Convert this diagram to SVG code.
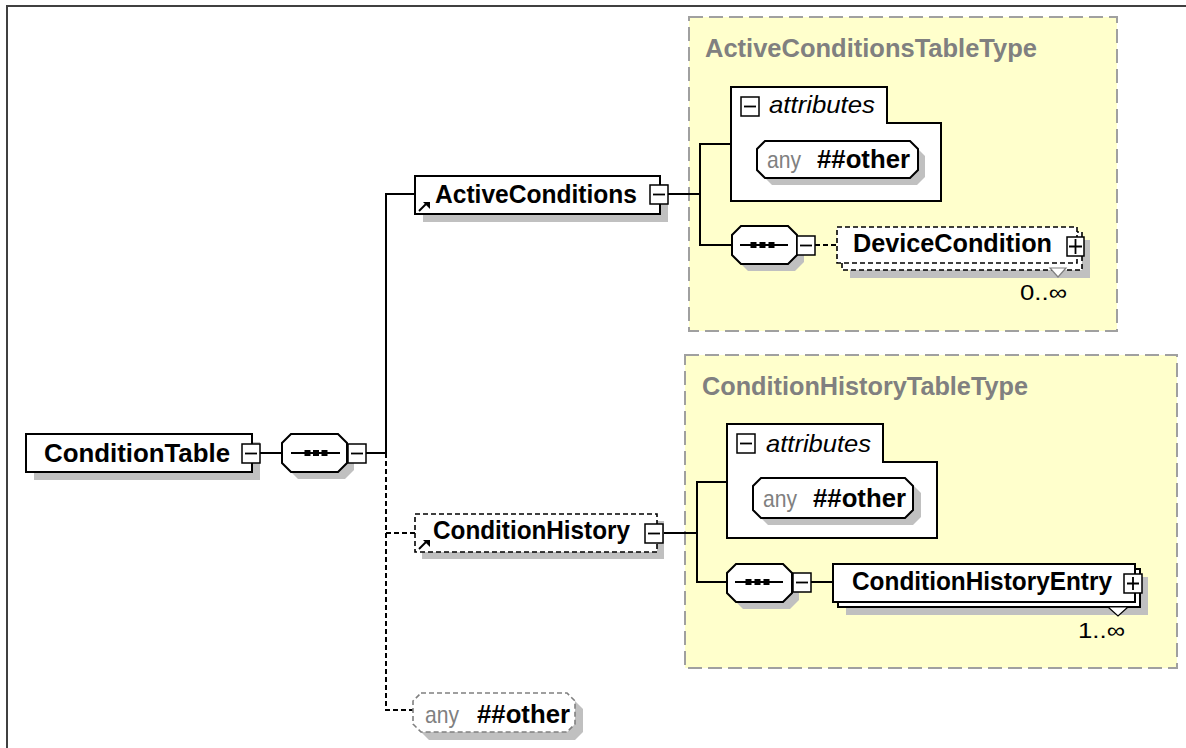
<svg xmlns="http://www.w3.org/2000/svg" width="1186" height="748" viewBox="0 0 1186 748">
<style>
.bg{fill:#ffffff}
.frame{fill:none;stroke:#404040;stroke-width:2}
.type{fill:#ffffcc;stroke:#a0a0a0;stroke-width:2;stroke-dasharray:14 6}
.shadow{fill:#c0c0c0;stroke:none}
.node{fill:#ffffff;stroke:#000;stroke-width:2}
.dnode{fill:#ffffff;stroke:#000;stroke-width:1.6;stroke-dasharray:5 3}
.anyd{fill:#ffffff;stroke:#808080;stroke-width:1.6;stroke-dasharray:5 3}
.btn{fill:#ffffff;stroke:#000;stroke-width:1.5}
.pm{stroke:#000;stroke-width:1.8;fill:none}
.conn{stroke:#000;stroke-width:2;fill:none}
.dconn{stroke:#000;stroke-width:2;fill:none;stroke-dasharray:5 3}
.lbl{font-family:'Liberation Sans',Arial,sans-serif;font-weight:bold;font-size:25px;fill:#000}
.title{font-family:'Liberation Sans',Arial,sans-serif;font-weight:bold;font-size:25px;fill:#808080}
.attr{font-family:'Liberation Sans',Arial,sans-serif;font-style:italic;font-size:24px;fill:#000}
.anyt{font-family:'Liberation Sans',Arial,sans-serif;font-size:24px;fill:#808080}
.mult{font-family:'Liberation Sans',Arial,sans-serif;font-size:22px;fill:#000}
.dot{fill:#000}
</style>
<rect class="bg" x="0" y="0" width="1186" height="748"/>
<path class="frame" d="M7,748 V6 H1186"/>

<g id="ActiveConditionsTableType">
<rect class="type" x="689" y="17" width="428" height="314"/>
<text class="title" x="705" y="57" textLength="332" lengthAdjust="spacingAndGlyphs">ActiveConditionsTableType</text>
</g>
<g id="ConditionHistoryTableType">
<rect class="type" x="685" y="355" width="492" height="313"/>
<text class="title" x="702" y="395" textLength="326" lengthAdjust="spacingAndGlyphs">ConditionHistoryTableType</text>
</g>

<g id="connectors">
<path class="conn" d="M260,453 H282"/>
<path class="conn" d="M366,453 H386 V194 H415"/>
<path class="dconn" d="M386,453 V710 H413"/>
<path class="dconn" d="M386,533 H415"/>
<path class="conn" d="M668,194 H700"/>
<path class="conn" d="M731,144 H700 V245 H732"/>
<path class="dconn" d="M815,245 H837"/>
<path class="conn" d="M663,533 H697"/>
<path class="conn" d="M727,482 H697 V582 H727"/>
<path class="conn" d="M811,582 H833"/>
</g>

<g id="ConditionTable">
<rect class="shadow" x="34" y="442" width="226" height="38"/>
<rect class="node" x="26" y="434" width="226" height="38"/>
<text class="lbl" x="44" y="462" textLength="186" lengthAdjust="spacingAndGlyphs">ConditionTable</text>
<rect class="btn" x="242" y="444" width="18" height="19"/>
<path class="pm" d="M245,453.5 H257"/>
</g>

<g id="sequence1">
<path class="shadow" d="M298,441 H345 L354,450 V470 L345,479 H298 L289,470 V450 Z"/>
<path class="node" d="M291,434 H338 L347,443 V463 L338,472 H291 L282,463 V443 Z"/>
<path class="conn" d="M291,453 H340"/>
<rect class="dot" x="304.5" y="450" width="6" height="6"/>
<rect class="dot" x="313" y="450" width="6" height="6"/>
<rect class="dot" x="321.5" y="450" width="6" height="6"/>
<rect class="btn" x="348" y="444" width="18" height="19"/>
<path class="pm" d="M351,453.5 H363"/>
</g>

<g id="ActiveConditions">
<rect class="shadow" x="423" y="184" width="245" height="38"/>
<rect class="node" x="415" y="176" width="245" height="38"/>
<text class="lbl" x="435" y="203" textLength="202" lengthAdjust="spacingAndGlyphs">ActiveConditions</text>
<path class="conn" d="M419,211 L426,204"/>
<polygon class="dot" points="423,202 430,202 430,209"/>
<rect class="btn" x="650" y="185" width="18" height="19"/>
<path class="pm" d="M653,194.5 H665"/>
</g>

<g id="attributes1">
<polygon class="node" points="731,87 887,87 887,123 941,123 941,201 731,201"/>
<rect class="btn" x="741" y="97" width="18" height="19"/>
<path class="pm" d="M744,106.5 H756"/>
<text class="attr" x="769" y="113" textLength="106" lengthAdjust="spacingAndGlyphs">attributes</text>
</g>
<g id="anyAttr1">
<path class="shadow" d="M772,148 H917 L925,156 V177 L917,185 H772 L764,177 V156 Z"/>
<path class="node" d="M765,141 H910 L918,149 V170 L910,178 H765 L757,170 V149 Z"/>
<text class="anyt" x="767" y="168" textLength="34" lengthAdjust="spacingAndGlyphs">any</text>
<text class="lbl" x="817" y="168" textLength="93" lengthAdjust="spacingAndGlyphs">##other</text>
</g>

<g id="sequence2">
<path class="shadow" d="M748,233 H795 L804,242 V262 L795,271 H748 L739,262 V242 Z"/>
<path class="node" d="M741,226 H788 L797,235 V255 L788,264 H741 L732,255 V235 Z"/>
<path class="conn" d="M740,245 H788"/>
<rect class="dot" x="750.5" y="242" width="6" height="6"/>
<rect class="dot" x="759.5" y="242" width="6" height="6"/>
<rect class="dot" x="768.5" y="242" width="6" height="6"/>
<rect class="btn" x="797" y="236" width="18" height="19"/>
<path class="pm" d="M800,245.5 H812"/>
</g>

<g id="DeviceCondition">
<rect class="shadow" x="850" y="240" width="240" height="38"/>
<rect class="dnode" x="842" y="232" width="240" height="38"/>
<rect class="dnode" x="837" y="227" width="240" height="36"/>
<polygon points="1050,268 1066,268 1058,277" fill="#ffffff" stroke="#808080" stroke-width="1.2"/>
<text class="lbl" x="853" y="252" textLength="199" lengthAdjust="spacingAndGlyphs">DeviceCondition</text>
<rect class="btn" x="1067" y="237" width="17" height="19"/>
<path class="pm" d="M1069,246.5 H1082 M1075.5,239 V254"/>
<text class="mult" x="1020" y="300" textLength="47" lengthAdjust="spacingAndGlyphs">0..∞</text>
</g>

<g id="ConditionHistory">
<rect class="shadow" x="422" y="521" width="242" height="38"/>
<rect class="dnode" x="415" y="514" width="242" height="38"/>
<text class="lbl" x="433" y="539" textLength="197" lengthAdjust="spacingAndGlyphs">ConditionHistory</text>
<path class="conn" d="M419,549 L426,542"/>
<polygon class="dot" points="423,540 430,540 430,547"/>
<rect class="btn" x="645" y="524" width="18" height="19"/>
<path class="pm" d="M648,533.5 H660"/>
</g>

<g id="attributes2">
<polygon class="node" points="727,424 883,424 883,462 937,462 937,538 727,538"/>
<rect class="btn" x="737" y="434" width="18" height="19"/>
<path class="pm" d="M740,443.5 H752"/>
<text class="attr" x="766" y="452" textLength="105" lengthAdjust="spacingAndGlyphs">attributes</text>
</g>
<g id="anyAttr2">
<path class="shadow" d="M768,485 H913 L921,493 V517 L913,525 H768 L760,517 V493 Z"/>
<path class="node" d="M761,478 H905 L913,486 V510 L905,518 H761 L753,510 V486 Z"/>
<text class="anyt" x="763" y="507" textLength="34" lengthAdjust="spacingAndGlyphs">any</text>
<text class="lbl" x="813" y="507" textLength="93" lengthAdjust="spacingAndGlyphs">##other</text>
</g>

<g id="sequence3">
<path class="shadow" d="M743,571 H790 L799,580 V600 L790,609 H743 L734,600 V580 Z"/>
<path class="node" d="M736,564 H783 L792,573 V593 L783,602 H736 L727,593 V573 Z"/>
<path class="conn" d="M735,582 H783"/>
<rect class="dot" x="745.5" y="579" width="6" height="6"/>
<rect class="dot" x="754.5" y="579" width="6" height="6"/>
<rect class="dot" x="763.5" y="579" width="6" height="6"/>
<rect class="btn" x="793" y="573" width="18" height="19"/>
<path class="pm" d="M796,582.5 H808"/>
</g>

<g id="ConditionHistoryEntry">
<rect class="shadow" x="846" y="577" width="302" height="38"/>
<rect class="node" x="838" y="569" width="302" height="38"/>
<rect class="node" x="833" y="564" width="302" height="38"/>
<polygon points="1108,607 1128,607 1118,616" fill="#ffffff" stroke="#000" stroke-width="1.2"/>
<text class="lbl" x="852" y="590" textLength="260" lengthAdjust="spacingAndGlyphs">ConditionHistoryEntry</text>
<rect class="btn" x="1124" y="574" width="18" height="19"/>
<path class="pm" d="M1127,583.5 H1139 M1133,577 V590"/>
<text class="mult" x="1078" y="638" textLength="47" lengthAdjust="spacingAndGlyphs">1..∞</text>
</g>

<g id="anyOther">
<path class="shadow" d="M429,701 H575 L583,709 V732 L575,740 H429 L421,732 V709 Z"/>
<path class="anyd" d="M421,693 H567 L575,701 V724 L567,732 H421 L413,724 V701 Z"/>
<text class="anyt" x="425" y="723" textLength="34" lengthAdjust="spacingAndGlyphs">any</text>
<text class="lbl" x="477" y="723" textLength="93" lengthAdjust="spacingAndGlyphs">##other</text>
</g>
</svg>
